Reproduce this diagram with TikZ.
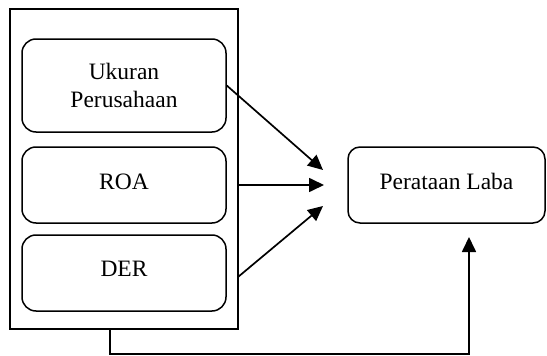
\documentclass[tikz,border=0pt]{standalone}
\usepackage{fontspec}
\setmainfont{Liberation Serif}
\usetikzlibrary{arrows.meta}
\begin{document}
\begin{tikzpicture}[x=1pt,y=-1pt,
  every node/.style={font=\fontsize{23.5}{28}\selectfont, inner sep=0pt},
  frame/.style={draw, line width=1.7pt, minimum width=228pt, minimum height=320pt},
  varbox/.style={draw, line width=1.5pt, rounded corners=14pt, minimum width=204pt, align=center},
  conn/.style={line width=1.7pt, -{Triangle[length=15pt,width=14pt]}}]
\useasboundingbox (0,0) rectangle (547,356);
\node[frame] (outer) at (124,169) {};
\node[varbox, minimum height=93pt] (b1) at (124,85.5) {Ukuran\\Perusahaan};
\node[varbox, minimum height=76pt] (b2) at (124,185) {\raisebox{7pt}{ROA}};
\node[varbox, minimum height=76pt] (b3) at (124,273) {\raisebox{8pt}{DER}};
\node[draw, line width=1.5pt, rounded corners=12pt, minimum width=197pt, minimum height=76pt] (laba) at (446.5,185) {\raisebox{8pt}{Perataan Laba}};
\coordinate (t1) at (323,170);
\coordinate (t2) at (324,185);
\coordinate (t3) at (323,206);
\coordinate (s3) at (238,277);
\coordinate (t4) at (469,237);
\coordinate (s4) at (110,329);
\draw[conn] (b1.east) -- (t1);
\draw[conn] (outer.east |- b2.east) -- (t2);
\draw[conn] (s3) -- (t3);
\draw[conn] (s4) -- (110,354) -| (t4);
\end{tikzpicture}
\end{document}
